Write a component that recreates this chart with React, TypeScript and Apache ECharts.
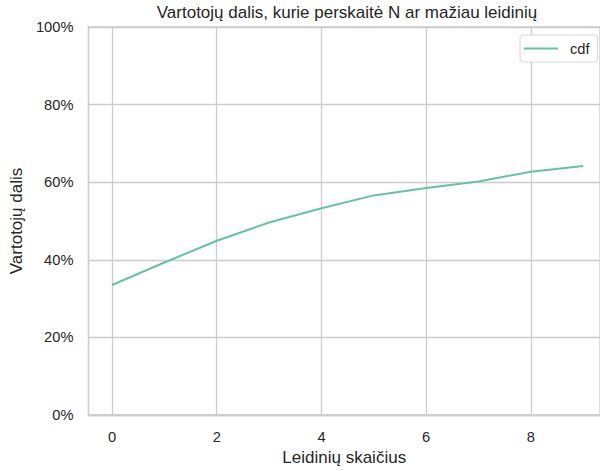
import React, { useEffect, useRef } from "react";
import * as echarts from "echarts";

const xValues = [0, 1, 2, 3, 4, 5, 6, 7, 8, 9];
const cdfValues = [0.335, 0.393, 0.449, 0.496, 0.533, 0.566, 0.585, 0.602, 0.627, 0.642];
const xTicks = [0, 2, 4, 6, 8];
const X_MIN = -0.45;
const X_MAX = 9.32;
const titleText = "Vartotojų dalis, kurie perskaitė N ar mažiau leidinių";
const xName = "Leidinių skaičius";
const yName = "Vartotojų dalis";
const seriesName = "cdf";

const FONT = '"Liberation Sans", Arial, sans-serif';
const TXT = "#262626";
const GRID = "#cccccc";

export default function App() {
  const ref = useRef<HTMLDivElement>(null);
  useEffect(() => {
    document.body.style.margin = "0";
    if (!ref.current) return;
    const chart = echarts.init(ref.current, undefined, { renderer: "svg" });
    chart.setOption({
      animation: false,
      backgroundColor: "#ffffff",
      title: {
        text: titleText,
        left: 347,
        textAlign: "center",
        top: 4,
        padding: 0,
        textStyle: { fontFamily: FONT, fontSize: 17, fontWeight: "normal", color: TXT },
      },
      legend: {
        data: [{ name: seriesName, icon: "rect" }],
        left: 520,
        top: 35,
        padding: [6, 8, 6, 4],
        itemWidth: 34,
        itemHeight: 2,
        borderColor: "#d6d6d6",
        borderWidth: 1,
        borderRadius: 3,
        backgroundColor: "#ffffff",
        textStyle: { fontFamily: FONT, fontSize: 14.7, color: TXT, padding: [0, 0, 0, 7] },
      },
      grid: {
        left: 88,
        right: 0,
        top: 27,
        bottom: 56,
        show: true,
        borderColor: GRID,
        borderWidth: 1.3,
      },
      xAxis: {
        type: "value",
        min: X_MIN,
        max: X_MAX,
        name: xName,
        nameLocation: "middle",
        nameGap: 33,
        nameTextStyle: { fontFamily: FONT, fontSize: 17, color: TXT },
        axisLine: { show: true, onZero: false, lineStyle: { color: GRID, width: 1.3 } },
        axisTick: { show: false, customValues: xTicks },
        axisLabel: {
          customValues: xTicks,
          fontFamily: FONT,
          fontSize: 14.7,
          color: TXT,
          margin: 14,
        },
        splitLine: { show: true, customValues: xTicks, lineStyle: { color: GRID, width: 1.3 } },
      },
      yAxis: {
        type: "value",
        min: 0,
        max: 1,
        interval: 0.2,
        name: yName,
        nameLocation: "middle",
        nameGap: 60,
        nameTextStyle: { fontFamily: FONT, fontSize: 17, color: TXT },
        axisLine: { show: true, onZero: false, lineStyle: { color: GRID, width: 1.3 } },
        axisTick: { show: false },
        axisLabel: {
          fontFamily: FONT,
          fontSize: 14.7,
          color: TXT,
          margin: 15,
          formatter: (v: number) => `${Math.round(v * 100)}%`,
        },
        splitLine: { show: true, lineStyle: { color: GRID, width: 1.3 } },
      },
      series: [
        {
          name: seriesName,
          type: "line",
          data: xValues.map((x, i) => [x, cdfValues[i]]),
          symbol: "none",
          color: "#66c2a5",
          lineStyle: { color: "#66c2a5", width: 2 },
        },
      ],
    });
    return () => chart.dispose();
  }, []);
  return <div ref={ref} style={{ width: 600, height: 471 }} />;
}
